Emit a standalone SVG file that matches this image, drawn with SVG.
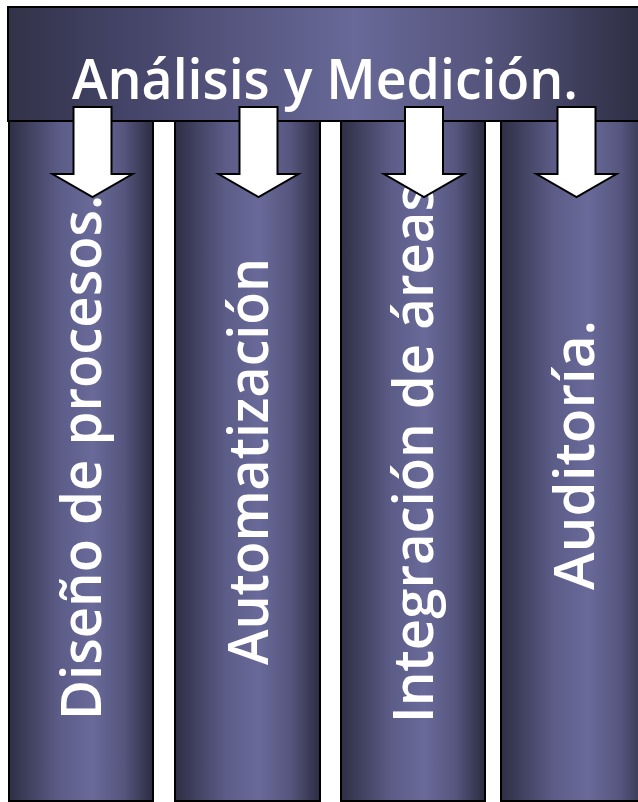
<svg xmlns="http://www.w3.org/2000/svg" width="638" height="802" viewBox="0 0 638 802">
  <defs>
    <!-- vertical pillar shading: dark edges, lighter middle -->
    <linearGradient id="pillar" x1="0" y1="0" x2="1" y2="0">
      <stop offset="0" stop-color="#2e2e44"/>
      <stop offset="0.12" stop-color="#3e3e5c"/>
      <stop offset="0.35" stop-color="#5c5c88"/>
      <stop offset="0.58" stop-color="#6a6a9a"/>
      <stop offset="0.8" stop-color="#55557e"/>
      <stop offset="1" stop-color="#2c2c42"/>
    </linearGradient>
    <linearGradient id="band" gradientUnits="userSpaceOnUse" x1="8" y1="0" x2="638" y2="0">
      <stop offset="0" stop-color="#323249"/>
      <stop offset="0.2" stop-color="#45456a"/>
      <stop offset="0.55" stop-color="#696999"/>
      <stop offset="0.78" stop-color="#525279"/>
      <stop offset="1" stop-color="#2f2f46"/>
    </linearGradient>
    <path id="arrow" d="M-19,0 H19 V67 H40 L0,90 L-40,67 H-19 Z"/>
  </defs>
  <style>
    .col { fill: url(#pillar); stroke: #000; stroke-width: 2; }
    .head { fill: url(#band); stroke: #000; stroke-width: 2; }
    .lbl { font-family: "Open Sans", "Liberation Sans", sans-serif; font-size: 56px; font-weight: 600; fill: #fff; }
    .arr { fill: #fff; stroke: #000; stroke-width: 2; stroke-linejoin: miter; }
  </style>

  <rect width="638" height="802" fill="#fff"/>

  <g id="col-diseno">
    <rect class="col" x="9" y="121" width="144" height="680"/>
    <text class="lbl" transform="translate(101,720) rotate(-90)" textLength="525" lengthAdjust="spacingAndGlyphs">Diseño de procesos.</text>
  </g>
  <g id="col-automatizacion">
    <rect class="col" x="175" y="121" width="145" height="680"/>
    <text class="lbl" transform="translate(268,665) rotate(-90)" textLength="407" lengthAdjust="spacingAndGlyphs">Automatización</text>
  </g>
  <g id="col-integracion">
    <rect class="col" x="341" y="121" width="144" height="680"/>
    <text class="lbl" transform="translate(433,723) rotate(-90)" textLength="538" lengthAdjust="spacingAndGlyphs">Integración de áreas</text>
  </g>
  <g id="col-auditoria">
    <rect class="col" x="501" y="121" width="150" height="680"/>
    <text class="lbl" transform="translate(594,590) rotate(-90)" textLength="270" lengthAdjust="spacingAndGlyphs">Auditoría.</text>
  </g>

  <g id="header">
    <rect class="head" x="8" y="7" width="650" height="114"/>
    <text class="lbl" x="72" y="99" textLength="506" lengthAdjust="spacingAndGlyphs">Análisis y Medición.</text>
  </g>

  <g id="connectors">
    <use href="#arrow" class="arr" transform="translate(92.5,107)"/>
    <use href="#arrow" class="arr" transform="translate(258.5,107)"/>
    <use href="#arrow" class="arr" transform="translate(424,107)"/>
    <use href="#arrow" class="arr" transform="translate(576.5,107)"/>
  </g>
</svg>
